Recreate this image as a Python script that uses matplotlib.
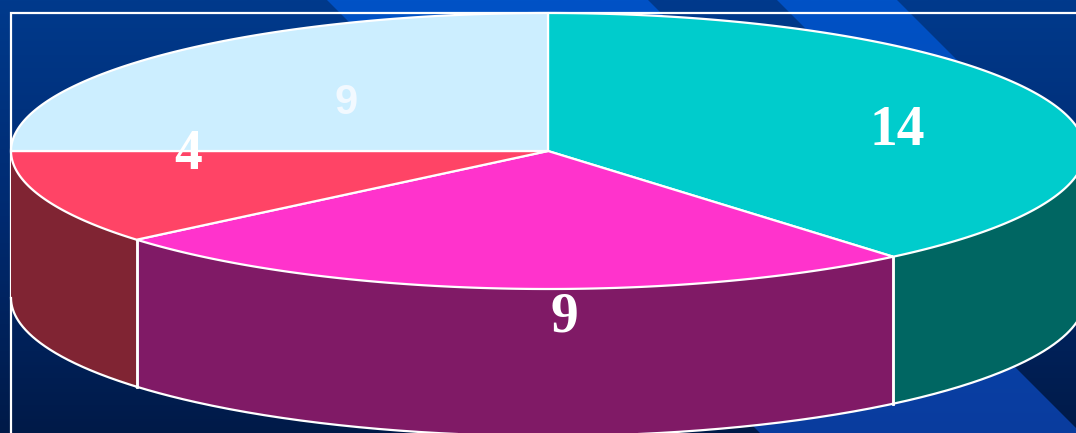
import numpy as np
import matplotlib
matplotlib.use('Agg')
import matplotlib.pyplot as plt
from matplotlib.colors import LinearSegmentedColormap
from matplotlib.patches import Polygon

# slices clockwise from 12 o'clock
values = [14, 9, 4, 9]
top_colors = ['#00cccc', '#ff33cc', '#ff4466', '#cceeff']
side_colors = ['#006662', '#801a66', '#802433', '#6b8090']
labels = ['14', '9', '4', '9']
label_xy = [(897, 125), (564, 312), (188, 149), (346, 99)]
label_fonts = ['Liberation Serif', 'Liberation Serif', 'Liberation Serif', 'Liberation Sans']
label_sizes = [40, 40, 40, 30]
label_colors = ['white', 'white', 'white', '#f2f9ff']

W, H = 1076, 433
cx, cy = 548, 151
rx, ry = 537, 138
depth = 147

# (x - y) offsets of the diagonal stripes
stripes = [(327, 648), (777, 897)]


def rim(a0, a1, n=200):
    t = np.radians(np.linspace(a0, a1, n))
    return cx + rx * np.cos(t), cy - ry * np.sin(t)


fig = plt.figure(figsize=(W / 100, H / 100), dpi=100)
ax = fig.add_axes([0, 0, 1, 1])
ax.set_xlim(0, W)
ax.set_ylim(H, 0)
ax.axis('off')

# background
bg = LinearSegmentedColormap.from_list('bg', ['#003a8c', '#002a70', '#001a48'])
grad = np.linspace(0, 1, 256).reshape(-1, 1)
ax.imshow(grad, cmap=bg, extent=(0, W, H, 0), aspect='auto', zorder=0)

stripe_cm = LinearSegmentedColormap.from_list('stripe', ['#0052c6', '#0a3c9e'])
for lo, hi in stripes:
    im = ax.imshow(grad, cmap=stripe_cm, extent=(0, W, H, 0), aspect='auto', zorder=1)
    poly = Polygon([(lo, 0), (hi, 0), (hi + H, H), (lo + H, H)], transform=ax.transData,
                   fc='none', ec='none')
    ax.add_patch(poly)
    im.set_clip_path(poly)

# frame, open at the bottom and right
ax.plot([11, 11, W], [H, 13, 13], color='white', lw=1.6, zorder=2, solid_joinstyle='miter')

# wedges
edges = 90 - np.cumsum([0] + values) / sum(values) * 360.0

# sides first
for i, c in enumerate(side_colors):
    a1, a0 = edges[i], edges[i + 1]   # a0 < a1, going clockwise
    # visible rim is the lower half, -180..0
    lo, hi = max(a0, -180), min(a1, 0)
    if hi <= lo:
        continue
    x, y = rim(lo, hi)
    xs = np.r_[x, x[::-1]]
    ys = np.r_[y, y[::-1] + depth]
    ax.fill(xs, ys, fc=c, ec='none', zorder=3)
    ax.plot(x, y + depth, color='white', lw=1.6, zorder=4)
    for a in (a0, a1):
        if -180 < a < 0:
            px, py = rim(a, a, 1)
            ax.plot([px[0], px[0]], [py[0], py[0] + depth], color='white', lw=1.8, zorder=4)

# top faces
for i, c in enumerate(top_colors):
    x, y = rim(edges[i], edges[i + 1])
    ax.fill(np.r_[cx, x], np.r_[cy, y], fc=c, ec='white', lw=1.6, zorder=5,
            joinstyle='round')

for txt, (x, y), fam, size, col in zip(labels, label_xy, label_fonts, label_sizes, label_colors):
    ax.text(x, y, txt, family=fam, weight='bold', fontsize=size, color=col,
            ha='center', va='center_baseline', zorder=6)

ax.set_xlim(0, W)
ax.set_ylim(H, 0)
fig.savefig('out.png', dpi=100)
